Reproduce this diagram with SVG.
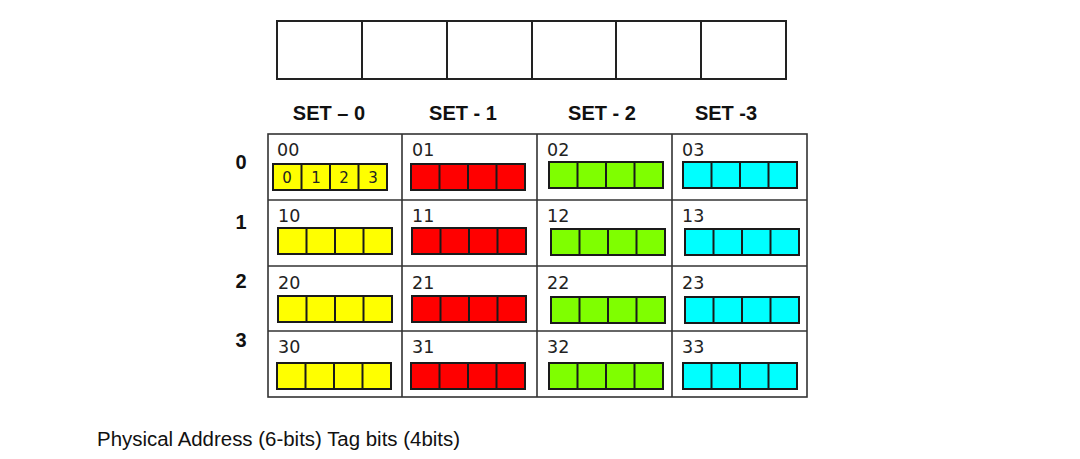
<svg xmlns="http://www.w3.org/2000/svg" width="1080" height="459" viewBox="0 0 1080 459">
<style>
.reg{fill:#fff;stroke:#222;stroke-width:2}
.grid{fill:#fff;stroke:#333;stroke-width:1.6}
.hdr{font-family:"Liberation Sans",Arial,sans-serif;font-weight:bold;font-size:20px;fill:#111;text-anchor:middle}
.lbl{font-family:"DejaVu Sans",sans-serif;font-size:17.5px;fill:#222}
.dig{font-family:"DejaVu Sans",sans-serif;font-size:15px;fill:#222;text-anchor:middle}
.cap{font-family:"Liberation Sans",Arial,sans-serif;font-size:20px;fill:#111}
.b{stroke:#1a1a1a;stroke-width:2}
.y{fill:#ffff00}.r{fill:#f00}.g{fill:#7fff00}.c{fill:#00ffff}
</style>
<defs>
<g id="blk">
<rect x="0" y="0" width="114" height="26"/>
<line x1="28.5" y1="0" x2="28.5" y2="26"/>
<line x1="57" y1="0" x2="57" y2="26"/>
<line x1="85.5" y1="0" x2="85.5" y2="26"/>
</g>
</defs>
<g id="register">
<rect class="reg" x="277" y="21" width="509" height="58"/>
<line class="reg" x1="362" y1="21" x2="362" y2="79"/>
<line class="reg" x1="447" y1="21" x2="447" y2="79"/>
<line class="reg" x1="532" y1="21" x2="532" y2="79"/>
<line class="reg" x1="616" y1="21" x2="616" y2="79"/>
<line class="reg" x1="701" y1="21" x2="701" y2="79"/>
</g>
<g id="headers">
<text class="hdr" x="329" y="120">SET – 0</text>
<text class="hdr" x="463" y="120">SET - 1</text>
<text class="hdr" x="602" y="120">SET - 2</text>
<text class="hdr" x="726" y="120">SET -3</text>
</g>
<g id="rowlabels">
<text class="hdr" x="241" y="169">0</text>
<text class="hdr" x="241" y="229">1</text>
<text class="hdr" x="241" y="288">2</text>
<text class="hdr" x="241" y="347">3</text>
</g>
<g id="grid">
<rect class="grid" x="268" y="134" width="539" height="263"/>
<line class="grid" x1="402" y1="134" x2="402" y2="397"/>
<line class="grid" x1="537" y1="134" x2="537" y2="397"/>
<line class="grid" x1="672" y1="134" x2="672" y2="397"/>
<line class="grid" x1="268" y1="200" x2="807" y2="200"/>
<line class="grid" x1="268" y1="266" x2="807" y2="266"/>
<line class="grid" x1="268" y1="331" x2="807" y2="331"/>
</g>
<g id="cell-00"><text class="lbl" x="277" y="156">00</text><use href="#blk" class="y b" x="273" y="164"/>
<text class="dig" x="287" y="183">0</text><text class="dig" x="316" y="183">1</text><text class="dig" x="344" y="183">2</text><text class="dig" x="373" y="183">3</text></g>
<g id="cell-01"><text class="lbl" x="412" y="156">01</text><use href="#blk" class="r b" x="411" y="164"/></g>
<g id="cell-02"><text class="lbl" x="547" y="156">02</text><use href="#blk" class="g b" x="549" y="162"/></g>
<g id="cell-03"><text class="lbl" x="682" y="156">03</text><use href="#blk" class="c b" x="683" y="162"/></g>
<g id="cell-10"><text class="lbl" x="278" y="222">10</text><use href="#blk" class="y b" x="278" y="228"/></g>
<g id="cell-11"><text class="lbl" x="412" y="222">11</text><use href="#blk" class="r b" x="412" y="228"/></g>
<g id="cell-12"><text class="lbl" x="547" y="222">12</text><use href="#blk" class="g b" x="551" y="229"/></g>
<g id="cell-13"><text class="lbl" x="682" y="222">13</text><use href="#blk" class="c b" x="685" y="229"/></g>
<g id="cell-20"><text class="lbl" x="278" y="289">20</text><use href="#blk" class="y b" x="278" y="296"/></g>
<g id="cell-21"><text class="lbl" x="412" y="289">21</text><use href="#blk" class="r b" x="412" y="296"/></g>
<g id="cell-22"><text class="lbl" x="547" y="289">22</text><use href="#blk" class="g b" x="551" y="297"/></g>
<g id="cell-23"><text class="lbl" x="682" y="289">23</text><use href="#blk" class="c b" x="685" y="297"/></g>
<g id="cell-30"><text class="lbl" x="278" y="353">30</text><use href="#blk" class="y b" x="277" y="363"/></g>
<g id="cell-31"><text class="lbl" x="412" y="353">31</text><use href="#blk" class="r b" x="411" y="363"/></g>
<g id="cell-32"><text class="lbl" x="547" y="353">32</text><use href="#blk" class="g b" x="549" y="363"/></g>
<g id="cell-33"><text class="lbl" x="682" y="353">33</text><use href="#blk" class="c b" x="683" y="363"/></g>
<text class="cap" x="97" y="446" textLength="363" lengthAdjust="spacingAndGlyphs">Physical Address (6-bits) Tag bits (4bits)</text>
</svg>
